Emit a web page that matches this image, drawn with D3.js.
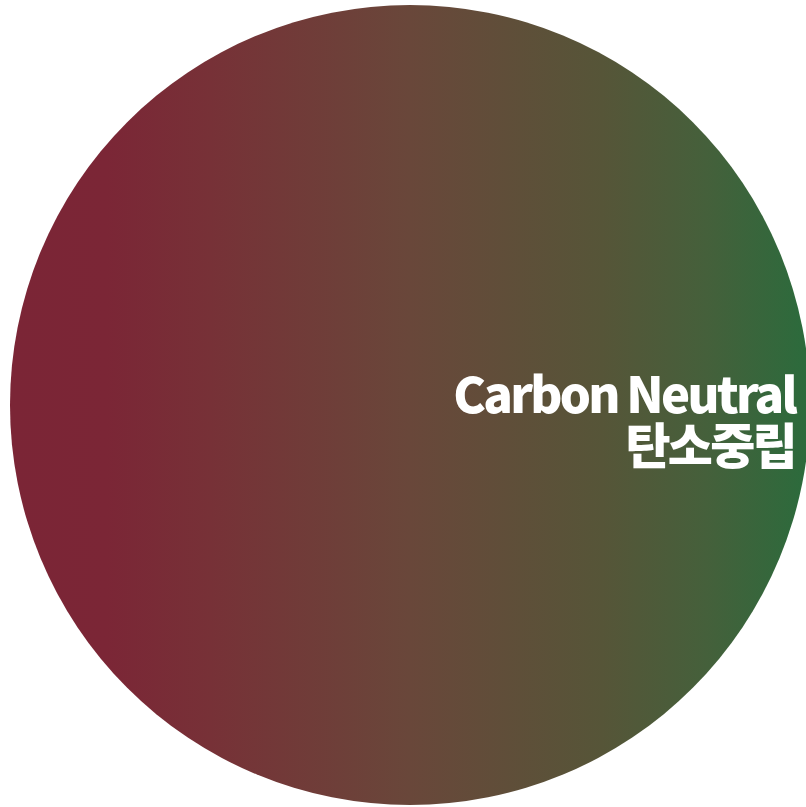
<!DOCTYPE html>
<html>
<head>
<meta charset="utf-8">
<script src="https://cdn.jsdelivr.net/npm/d3@7"></script>
<style>
  html, body { margin: 0; padding: 0; background: #fff; overflow: hidden; }
</style>
</head>
<body>
<svg id="chart" width="806" height="807"></svg>
<script>
// single slice "pie" with a left-to-right gradient
const slices = [{ name: "Carbon Neutral", value: 1 }];
const labels = ["Carbon Neutral", "탄소중립"];
const gradStops = [
	{ offset: "0%",   color: "#7b2536" },
	{ offset: "12%",  color: "#7b2636" },
	{ offset: "25%",  color: "#773137" },
	{ offset: "50%",  color: "#69473a" },
	{ offset: "74%",  color: "#565538" },
	{ offset: "87%",  color: "#45603b" },
	{ offset: "100%", color: "#2b6b3c" }
];

const width = 806, height = 807;
const cx = 410, cy = 405, radius = 400;

const svg = d3.select("#chart");

const defs = svg.append("defs");
// gradient coords are in the translated <g> space
const grad = defs.append("linearGradient")
	.attr("id", "pieGrad")
	.attr("gradientUnits", "userSpaceOnUse")
	.attr("x1", -radius).attr("x2", radius)
	.attr("y1", 0).attr("y2", 0);
grad.selectAll("stop")
	.data(gradStops)
	.join("stop")
	.attr("offset", d => d.offset)
	.attr("stop-color", d => d.color);

const pie = d3.pie().value(d => d.value).sort(null);
const arc = d3.arc().innerRadius(0).outerRadius(radius);

const g = svg.append("g").attr("transform", `translate(${cx},${cy})`);

g.selectAll("path")
	.data(pie(slices))
	.join("path")
	.attr("d", arc)
	.attr("fill", "url(#pieGrad)");

// label, right aligned
const label = svg.append("text")
	.attr("text-anchor", "end")
	.attr("fill", "#fff")
	.attr("font-family", "'Noto Sans CJK KR', 'Noto Sans', sans-serif")
	.attr("font-weight", 900)
	.attr("font-size", 49)
	.attr("letter-spacing", -2.7);

label.selectAll("tspan")
	.data(labels)
	.join("tspan")
	.attr("x", 795)
	.attr("y", (d, i) => 413 + i * 51)
	.text(d => d);
</script>
</body>
</html>
